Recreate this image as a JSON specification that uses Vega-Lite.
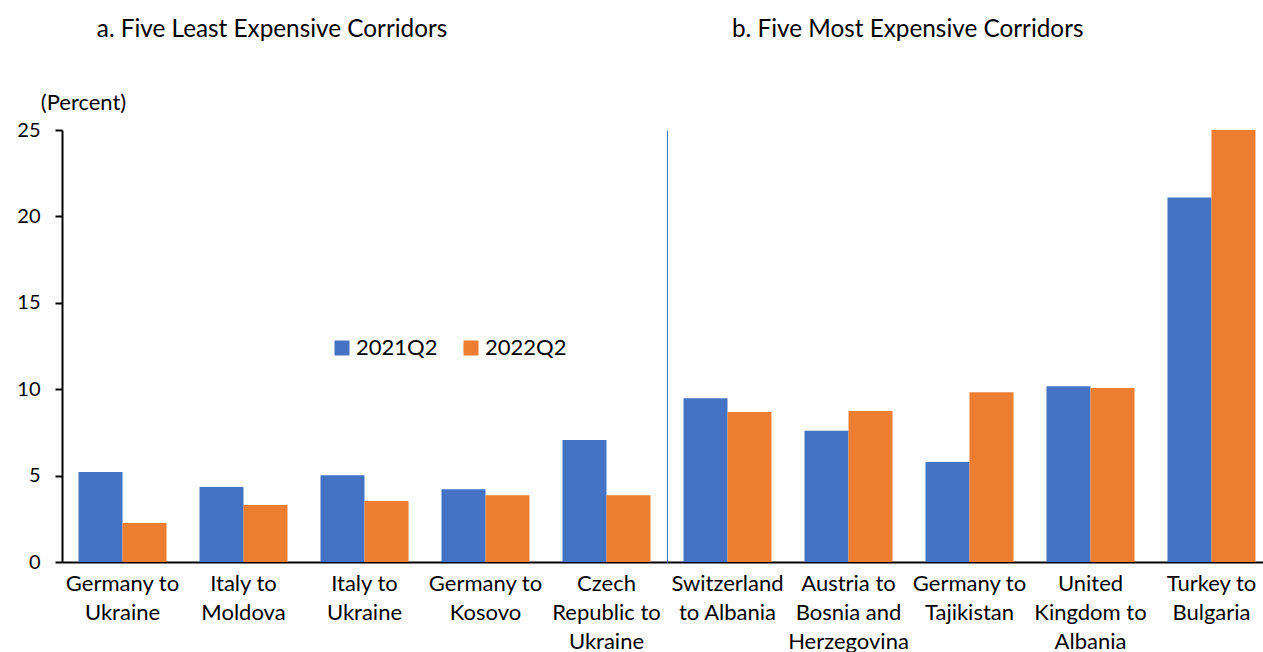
{
  "$schema": "https://vega.github.io/schema/vega-lite/v6.json",
  "padding": {"left": 16, "top": 17, "right": 0, "bottom": 0},
  "background": "white",
  "config": {
    "font": "Lato",
    "view": {"stroke": null},
    "axis": {
      "labelFont": "Lato", "labelFontSize": 22, "labelColor": "#000",
      "titleFont": "Lato", "titleFontSize": 22, "titleColor": "#000", "titleFontWeight": "normal",
      "grid": false, "domainColor": "#000", "domainWidth": 2, "tickColor": "#000", "tickWidth": 2
    },
    "title": {"font": "Lato", "fontSize": 24.3, "fontWeight": "normal", "color": "#000", "anchor": "start"},
    "legend": {
      "orient": "none", "direction": "horizontal", "legendX": 269, "legendY": 207,
      "title": null, "symbolType": "square", "symbolSize": 225, "symbolStrokeWidth": 0,
      "labelFont": "Lato", "labelFontSize": 22, "labelColor": "#000", "labelOffset": 3,
      "columnPadding": 22, "padding": 0
    }
  },
  "data": {
    "values": [
      {"panel": "a", "corridor": "Germany to Ukraine", "period": "2021Q2", "value": 5.21},
      {"panel": "a", "corridor": "Germany to Ukraine", "period": "2022Q2", "value": 2.26},
      {"panel": "a", "corridor": "Italy to Moldova", "period": "2021Q2", "value": 4.34},
      {"panel": "a", "corridor": "Italy to Moldova", "period": "2022Q2", "value": 3.30},
      {"panel": "a", "corridor": "Italy to Ukraine", "period": "2021Q2", "value": 5.02},
      {"panel": "a", "corridor": "Italy to Ukraine", "period": "2022Q2", "value": 3.53},
      {"panel": "a", "corridor": "Germany to Kosovo", "period": "2021Q2", "value": 4.21},
      {"panel": "a", "corridor": "Germany to Kosovo", "period": "2022Q2", "value": 3.86},
      {"panel": "a", "corridor": "Czech Republic to Ukraine", "period": "2021Q2", "value": 7.06},
      {"panel": "a", "corridor": "Czech Republic to Ukraine", "period": "2022Q2", "value": 3.86},
      {"panel": "b", "corridor": "Switzerland to Albania", "period": "2021Q2", "value": 9.47},
      {"panel": "b", "corridor": "Switzerland to Albania", "period": "2022Q2", "value": 8.68},
      {"panel": "b", "corridor": "Austria to Bosnia and Herzegovina", "period": "2021Q2", "value": 7.60},
      {"panel": "b", "corridor": "Austria to Bosnia and Herzegovina", "period": "2022Q2", "value": 8.74},
      {"panel": "b", "corridor": "Germany to Tajikistan", "period": "2021Q2", "value": 5.79},
      {"panel": "b", "corridor": "Germany to Tajikistan", "period": "2022Q2", "value": 9.82},
      {"panel": "b", "corridor": "United Kingdom to Albania", "period": "2021Q2", "value": 10.17},
      {"panel": "b", "corridor": "United Kingdom to Albania", "period": "2022Q2", "value": 10.07},
      {"panel": "b", "corridor": "Turkey to Bulgaria", "period": "2021Q2", "value": 21.10},
      {"panel": "b", "corridor": "Turkey to Bulgaria", "period": "2022Q2", "value": 25.0}
    ]
  },
  "spacing": 0,
  "resolve": {"scale": {"color": "shared"}},
  "hconcat": [
    {
      "title": {"text": "a. Five Least Expensive Corridors", "dx": 80, "offset": 49},
      "width": 605,
      "height": 432,
      "transform": [{"filter": "datum.panel == 'a'"}],
      "mark": {"type": "bar"},
      "encoding": {
        "x": {
          "field": "corridor", "type": "nominal", "sort": null,
          "scale": {"paddingInner": 0.2727, "paddingOuter": 0.1364},
          "axis": {
            "title": null, "labelAngle": 0, "ticks": false, "labelPadding": 11, "labelLineHeight": 29,
            "labelExpr": "({'Germany to Ukraine': ['Germany to', 'Ukraine'], 'Italy to Moldova': ['Italy to', 'Moldova'], 'Italy to Ukraine': ['Italy to', 'Ukraine'], 'Germany to Kosovo': ['Germany to', 'Kosovo'], 'Czech Republic to Ukraine': ['Czech', 'Republic to', 'Ukraine']})[datum.label]"
          }
        },
        "xOffset": {"field": "period", "type": "nominal", "scale": {"paddingInner": 0}},
        "y": {
          "field": "value", "type": "quantitative",
          "scale": {"domain": [0, 25], "nice": false},
          "axis": {
            "values": [0, 5, 10, 15, 20, 25], "title": "(Percent)", "titleAngle": 0,
            "titleX": 21, "titleY": -28, "titleAlign": "center", "titleBaseline": "middle",
            "tickSize": 7, "labelPadding": 15, "labelFontSize": 20
          }
        },
        "color": {
          "field": "period", "type": "nominal",
          "scale": {"domain": ["2021Q2", "2022Q2"], "range": ["#4472C4", "#ED7D31"]}
        }
      }
    },
    {
      "title": {"text": "b. Five Most Expensive Corridors", "dx": 65, "offset": 88},
      "width": 605,
      "height": 432,
      "transform": [{"filter": "datum.panel == 'b'"}],
      "mark": {"type": "bar"},
      "encoding": {
        "x": {
          "field": "corridor", "type": "nominal", "sort": null,
          "scale": {"paddingInner": 0.2727, "paddingOuter": 0.1364},
          "axis": {
            "title": null, "labelAngle": 0, "ticks": false, "labelPadding": 11, "labelLineHeight": 29,
            "labelExpr": "({'Switzerland to Albania': ['Switzerland', 'to Albania'], 'Austria to Bosnia and Herzegovina': ['Austria to', 'Bosnia and', 'Herzegovina'], 'Germany to Tajikistan': ['Germany to', 'Tajikistan'], 'United Kingdom to Albania': ['United', 'Kingdom to', 'Albania'], 'Turkey to Bulgaria': ['Turkey to', 'Bulgaria']})[datum.label]"
          }
        },
        "xOffset": {"field": "period", "type": "nominal", "scale": {"paddingInner": 0}},
        "y": {
          "field": "value", "type": "quantitative",
          "scale": {"domain": [0, 25], "nice": false},
          "axis": {
            "title": null, "labels": false, "ticks": false,
            "domainColor": "#4472C4", "domainWidth": 1
          }
        },
        "color": {
          "field": "period", "type": "nominal",
          "scale": {"domain": ["2021Q2", "2022Q2"], "range": ["#4472C4", "#ED7D31"]}
        }
      }
    }
  ]
}
